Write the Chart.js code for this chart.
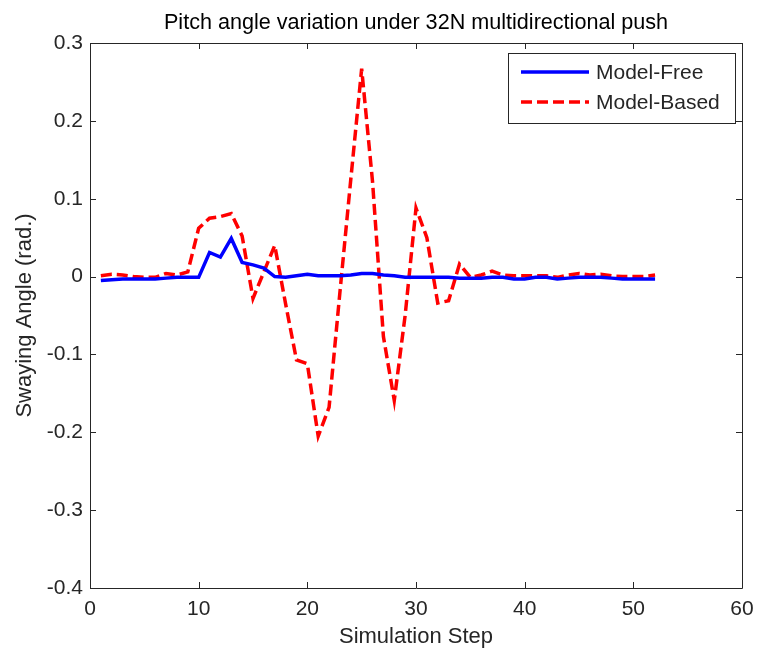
<!DOCTYPE html>
<html>
<head>
<meta charset="utf-8">
<script src="https://cdn.jsdelivr.net/npm/chart.js@4.4.1/dist/chart.umd.min.js"></script>
<style>
  html, body { margin: 0; padding: 0; background: #ffffff; }
  #wrap { width: 757px; height: 651px; }
</style>
</head>
<body>
<div id="wrap"><canvas id="c" width="757" height="651"></canvas></div>
<script>
// Simulation steps 1..52
const steps = [1,2,3,4,5,6,7,8,9,10,11,12,13,14,15,16,17,18,19,20,21,22,23,24,25,26,
               27,28,29,30,31,32,33,34,35,36,37,38,39,40,41,42,43,44,45,46,47,48,49,50,51,52];

// Pitch (swaying) angle in radians, model-free controller
const modelFree = [-0.005,-0.004,-0.003,-0.003,-0.003,-0.003,-0.002,-0.001,-0.001,-0.001,
                   0.031,0.025,0.049,0.018,0.015,0.011,0.000,-0.001,0.001,0.003,
                   0.001,0.001,0.001,0.002,0.004,0.004,0.002,0.001,-0.001,-0.001,
                   -0.001,-0.001,-0.001,-0.002,-0.002,-0.002,-0.001,-0.001,-0.003,-0.003,
                   -0.001,-0.001,-0.003,-0.002,-0.001,-0.001,-0.001,-0.002,-0.003,-0.003,
                   -0.003,-0.003];

// Pitch (swaying) angle in radians, model-based controller
const modelBased = [0.001,0.003,0.002,0.000,-0.001,-0.001,0.004,0.002,0.006,0.062,
                    0.075,0.077,0.081,0.052,-0.028,0.006,0.040,-0.035,-0.107,-0.112,
                    -0.205,-0.168,-0.020,0.125,0.267,0.122,-0.077,-0.159,-0.050,0.088,
                    0.050,-0.034,-0.031,0.016,-0.001,0.002,0.007,0.002,0.001,0.001,
                    0.001,0.001,-0.001,0.002,0.004,0.002,0.003,0.001,0.000,0.000,
                    0.000,0.002];

const seriesNames = ['Model-Free', 'Model-Based'];
const chartTitle = 'Pitch angle variation under 32N multidirectional push';
const xTicks = [0, 10, 20, 30, 40, 50, 60];
const yTicks = [-0.4, -0.3, -0.2, -0.1, 0, 0.1, 0.2, 0.3];
const yTickLabels = ['-0.4', '-0.3', '-0.2', '-0.1', '0', '0.1', '0.2', '0.3'];

const FONT = "'Liberation Sans', Arial, Helvetica, sans-serif";
const INK = '#262626';

function toPoints(xs, ys) {
  return xs.map((x, i) => ({ x: x, y: ys[i] }));
}

// Title centred over the plotting area
const plotTitlePlugin = {
  id: 'plotTitle',
  afterDraw(chart) {
    const { ctx, chartArea: a } = chart;
    ctx.save();
    ctx.font = '21.6px ' + FONT;
    ctx.fillStyle = '#000000';
    ctx.textAlign = 'center';
    ctx.textBaseline = 'alphabetic';
    ctx.fillText(chartTitle, (a.left + a.right) / 2, 29);
    ctx.restore();
  }
};

// Box frame with inward tick marks on all four sides
const framePlugin = {
  id: 'frame',
  afterDraw(chart) {
    const { ctx, chartArea: a, scales } = chart;
    const len = 6;
    ctx.save();
    ctx.strokeStyle = INK;
    ctx.lineWidth = 1;
    ctx.beginPath();
    ctx.rect(Math.round(a.left) + 0.5, Math.round(a.top) + 0.5,
             Math.round(a.right - a.left), Math.round(a.bottom - a.top));
    ctx.stroke();
    ctx.beginPath();
    xTicks.forEach(v => {
      const px = Math.round(scales.x.getPixelForValue(v)) + 0.5;
      ctx.moveTo(px, a.bottom); ctx.lineTo(px, a.bottom - len);
      ctx.moveTo(px, a.top); ctx.lineTo(px, a.top + len);
    });
    yTicks.forEach(v => {
      const py = Math.round(scales.y.getPixelForValue(v)) + 0.5;
      ctx.moveTo(a.left, py); ctx.lineTo(a.left + len, py);
      ctx.moveTo(a.right, py); ctx.lineTo(a.right - len, py);
    });
    ctx.stroke();
    ctx.restore();
  }
};

// Legend box in the upper-right corner of the plot
const legendBoxPlugin = {
  id: 'legendBox',
  afterDraw(chart) {
    const { ctx, chartArea: a } = chart;
    const boxW = 227, boxH = 70;
    const bx = a.right - 7 - boxW, by = a.top + 10;
    ctx.save();
    ctx.fillStyle = '#ffffff';
    ctx.fillRect(bx, by, boxW, boxH);
    ctx.strokeStyle = INK;
    ctx.lineWidth = 1;
    ctx.strokeRect(Math.round(bx) + 0.5, Math.round(by) + 0.5, boxW, boxH);
    ctx.font = '21px ' + FONT;
    ctx.textBaseline = 'middle';
    ctx.fillStyle = INK;
    chart.data.datasets.forEach((ds, i) => {
      const cy = by + 19 + i * 30;
      ctx.beginPath();
      ctx.strokeStyle = ds.borderColor;
      ctx.lineWidth = ds.borderWidth;
      ctx.setLineDash(ds.borderDash || []);
      ctx.moveTo(bx + 13, cy);
      ctx.lineTo(bx + 81, cy);
      ctx.stroke();
      ctx.setLineDash([]);
      ctx.fillText(ds.label, bx + 88, cy + 1);
    });
    ctx.restore();
  }
};

new Chart(document.getElementById('c'), {
  type: 'line',
  data: {
    datasets: [
      {
        label: seriesNames[0],
        data: toPoints(steps, modelFree),
        borderColor: '#0000ff',
        borderWidth: 3.5,
        pointRadius: 0,
        tension: 0,
        fill: false
      },
      {
        label: seriesNames[1],
        data: toPoints(steps, modelBased),
        borderColor: '#ff0000',
        borderWidth: 3.5,
        borderDash: [11, 5],
        pointRadius: 0,
        tension: 0,
        fill: false
      }
    ]
  },
  options: {
    responsive: false,
    animation: false,
    layout: { padding: { left: 0, right: 15, top: 43, bottom: 0 } },
    plugins: {
      legend: { display: false },
      tooltip: { enabled: false },
      title: { display: false }
    },
    scales: {
      x: {
        type: 'linear',
        min: 0,
        max: 60,
        afterBuildTicks(scale) { scale.ticks = xTicks.map(v => ({ value: v })); },
        afterFit(scale) {
          scale.height = 63;
          scale.paddingLeft = 0;
          scale.paddingRight = 0;
        },
        grid: { display: false, drawTicks: false },
        border: { display: false },
        ticks: {
          color: INK,
          padding: 9,
          maxRotation: 0,
          font: { family: FONT, size: 21 },
          callback: (v) => String(v)
        },
        title: {
          display: true,
          text: 'Simulation Step',
          color: INK,
          font: { family: FONT, size: 22, lineHeight: 1.2 },
          padding: { top: 0, bottom: 1 }
        }
      },
      y: {
        type: 'linear',
        min: -0.4,
        max: 0.3,
        afterBuildTicks(scale) { scale.ticks = yTicks.map(v => ({ value: v })); },
        afterFit(scale) {
          scale.width = 90;
          scale.paddingTop = 0;
          scale.paddingBottom = 0;
        },
        grid: { display: false, drawTicks: false },
        border: { display: false },
        ticks: {
          color: INK,
          padding: 7,
          font: { family: FONT, size: 21 },
          callback: (v) => {
            const i = yTicks.findIndex(t => Math.abs(t - v) < 1e-9);
            return i >= 0 ? yTickLabels[i] : '';
          }
        },
        title: {
          display: true,
          text: 'Swaying Angle (rad.)',
          color: INK,
          font: { family: FONT, size: 22, lineHeight: 1.2 },
          padding: { top: 12, bottom: 0 }
        }
      }
    }
  },
  plugins: [plotTitlePlugin, framePlugin, legendBoxPlugin]
});
</script>
</body>
</html>
